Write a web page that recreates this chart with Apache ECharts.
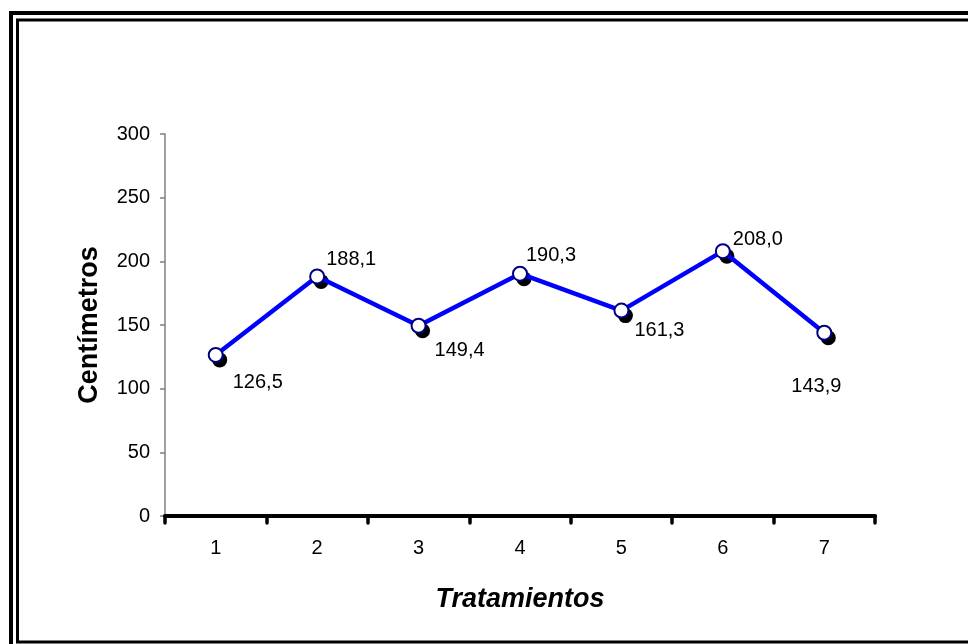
<!DOCTYPE html>
<html>
<head>
<meta charset="utf-8">
<script src="https://cdn.jsdelivr.net/npm/echarts@6/dist/echarts.min.js"></script>
<style>
  html, body { margin: 0; padding: 0; background: #fff; }
  #chart { width: 968px; height: 644px; }
</style>
</head>
<body>
<div id="chart"></div>
<script>
const categories = ['1', '2', '3', '4', '5', '6', '7']
const heights = [126.5, 188.1, 149.4, 190.3, 161.3, 208.0, 143.9]
const yTicks = [0, 300, 50]

// label offsets per point, same as the original layout
const labelOffsets = [
  [4, 28], [-4, -17], [3, 25], [-7, -18], [0, 20], [-3, -12], [-46, 54],
]

const chart = echarts.init(document.getElementById('chart'))

chart.setOption({
  animation: false,
  textStyle: { fontFamily: 'Liberation Sans, Arial, sans-serif' },
  graphic: [
    { type: 'rect', shape: { x: 11, y: 13, width: 980, height: 660 }, style: { fill: 'none', stroke: '#000', lineWidth: 4 } },
    { type: 'rect', shape: { x: 17.5, y: 20, width: 960, height: 622 }, style: { fill: 'none', stroke: '#000', lineWidth: 3 } },
  ],
  grid: { left: 165, right: 93, top: 134, bottom: 128 },
  xAxis: {
    type: 'category',
    data: categories,
    boundaryGap: true,
    name: 'Tratamientos',
    nameLocation: 'middle',
    nameGap: 70,
    nameTextStyle: { fontSize: 27, fontWeight: 'bold', fontStyle: 'italic', color: '#000' },
    axisLine: { lineStyle: { color: '#000', width: 4, cap: 'round' } },
    axisTick: { show: true, interval: 0, length: 7, lineStyle: { color: '#000', width: 3.5, cap: 'round' } },
    axisLabel: { fontSize: 20, color: '#000', margin: 22 },
    z: 3,
  },
  yAxis: {
    type: 'value',
    min: yTicks[0],
    max: yTicks[1],
    interval: yTicks[2],
    name: 'Centímetros',
    nameLocation: 'middle',
    nameGap: 62,
    nameTextStyle: { fontSize: 27, fontWeight: 'bold', color: '#000' },
    axisLine: { show: true, lineStyle: { color: '#808080', width: 1.5 } },
    axisTick: { show: true, length: 5, lineStyle: { color: '#808080', width: 1.5 } },
    axisLabel: { fontSize: 20, color: '#000', margin: 15 },
    splitLine: { show: false },
  },
  series: [
    {
      // dark drop shadow under each marker
      type: 'line',
      data: heights,
      lineStyle: { width: 0, opacity: 0 },
      symbol: 'circle',
      symbolSize: 15,
      symbolOffset: [4, 5],
      itemStyle: { color: '#000' },
      silent: true,
      z: 2,
    },
    {
      type: 'line',
      data: heights.map((v, i) => ({
        value: v,
        label: { offset: labelOffsets[i] },
      })),
      lineStyle: { color: '#0000ff', width: 4.5 },
      symbol: 'circle',
      symbolSize: 14,
      itemStyle: {
        color: '#fff',
        borderColor: '#000080',
        borderWidth: 2,
      },
      label: {
        show: true,
        position: 'right',
        fontSize: 20,
        color: '#000',
        formatter: (p) => p.value.toFixed(1).replace('.', ','),
      },
      z: 4,
    },
  ],
})
</script>
</body>
</html>
